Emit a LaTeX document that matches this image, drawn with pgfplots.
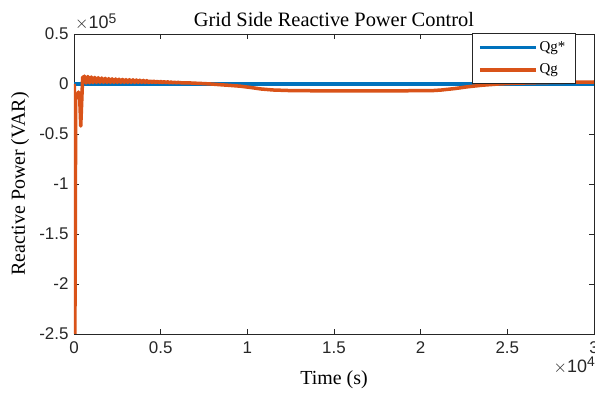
\documentclass[border=0pt]{standalone}
\usepackage{fontspec}
\setmainfont{Liberation Serif}
\newfontfamily\arial{Liberation Sans}
\usepackage{pgfplots}
\pgfplotsset{compat=1.18}
\definecolor{mblue}{rgb}{0,0.447,0.741}
\definecolor{morange}{rgb}{0.85,0.325,0.098}
\definecolor{axgray}{rgb}{0.15,0.15,0.15}
\begin{document}
\begin{tikzpicture}
\useasboundingbox (-74bp,-63bp) rectangle (521bp,334bp);
\begin{axis}[
  scale only axis,
  width=520bp, height=300bp,
  xmin=0, xmax=3, ymin=-2.5, ymax=0.5,
  xtick={0,0.5,1,1.5,2,2.5,3},
  xticklabels={0,0.5,1,1.5,2,2.5,3},
  ytick={-2.5,-2,-1.5,-1,-0.5,0,0.5},
  yticklabels={-2.5,-2,-1.5,-1,-0.5,0,0.5},
  tick align=inside,
  major tick length=5bp,
  tick style={axgray, line width=0.6bp},
  axis line style={axgray, line width=0.8bp},
  ticklabel style={font=\arial\fontsize{17}{17}\selectfont, text=axgray},
  xticklabel style={yshift=-4bp},
  yticklabel style={xshift=-2bp},
  legend style={at={(0.965,1.002)}, anchor=north east, draw=axgray, line width=0.6bp,
    font=\fontsize{15}{15}\selectfont, inner xsep=6bp, inner ysep=6bp,
    row sep=7bp, cells={anchor=west, text width=28bp}},
  legend image code/.code={\draw[#1, line width=3.5bp] (0bp,0bp) -- (56bp,0bp);},
  clip=true,
]
\addplot[mblue, line width=3.5bp] coordinates {(0,0) (3,0)};
\addlegendentry{Qg*}
\addplot[morange, line width=3.5bp, line join=round] coordinates {
(0,0) (0.002,-0.02) (0.005,-2.6) (0.010,-0.15) (0.014,-0.10) (0.020,-0.12)
(0.026,-0.08) (0.033,-0.15) (0.039,-0.42) (0.044,-0.20) (0.050,0.07) (0.056,0.02)
(0.06,0.08) (0.07,0.01) (0.08,0.075) (0.09,0.012) (0.10,0.07) (0.11,0.014)
(0.12,0.066) (0.13,0.015) (0.14,0.063) (0.15,0.016) (0.16,0.06) (0.17,0.016)
(0.18,0.057) (0.19,0.016) (0.20,0.054) (0.21,0.016) (0.22,0.052) (0.23,0.016)
(0.24,0.05) (0.25,0.016) (0.26,0.048) (0.27,0.016) (0.28,0.046) (0.29,0.016)
(0.30,0.044) (0.31,0.016) (0.32,0.043) (0.33,0.016) (0.34,0.042) (0.35,0.016)
(0.36,0.04) (0.37,0.016) (0.38,0.038) (0.39,0.016) (0.40,0.036) (0.41,0.015)
(0.42,0.034) (0.43,0.015) (0.44,0.032) (0.45,0.015) (0.46,0.03) (0.47,0.014)
(0.48,0.028) (0.49,0.014) (0.50,0.026) (0.51,0.014) (0.52,0.024) (0.53,0.013)
(0.54,0.022) (0.55,0.013) (0.56,0.02) (0.57,0.012) (0.58,0.018) (0.59,0.012)
(0.60,0.016) (0.62,0.012) (0.65,0.012) (0.70,0.008) (0.75,0.004) (0.79,0.0)
(0.85,-0.008) (0.90,-0.014) (0.96,-0.022) (1.02,-0.035) (1.08,-0.05) (1.15,-0.06)
(1.25,-0.066) (1.4,-0.068) (1.8,-0.068) (2.06,-0.067) (2.12,-0.06) (2.2,-0.045)
(2.27,-0.028) (2.35,-0.013) (2.45,0.0) (2.55,0.008) (2.7,0.014) (2.85,0.018) (3.0,0.02)
};
\addlegendentry{Qg}
\end{axis}
\node[anchor=base, font=\fontsize{20.5}{20.5}\selectfont] at (260bp,307bp) {Grid Side Reactive Power Control};
\node[anchor=center, font=\fontsize{20}{20}\selectfont] at (260bp,-46bp) {Time (s)};
\node[anchor=center, rotate=90, font=\fontsize{20}{20}\selectfont] at (-54bp,150bp) {Reactive Power (VAR)};
\node[anchor=base west, inner sep=0pt, font=\arial\fontsize{18}{18}\selectfont, text=axgray] at (1bp,305bp) {$\times$10\raisebox{0.55ex}{\fontsize{14}{14}\selectfont 5}};
\node[anchor=base east, inner sep=0pt, font=\arial\fontsize{18}{18}\selectfont, text=axgray] at (521bp,-38bp) {$\times$10\raisebox{0.55ex}{\fontsize{14}{14}\selectfont 4}};
\end{tikzpicture}
\end{document}
